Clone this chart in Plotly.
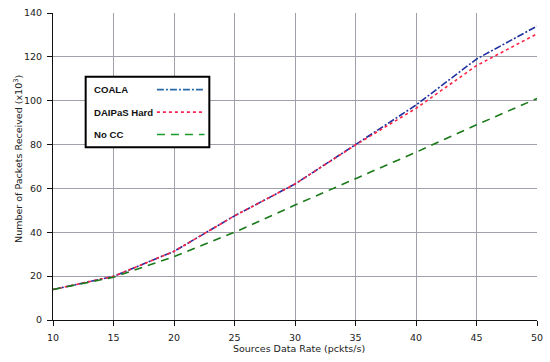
import plotly.graph_objects as go

rate = [10, 15, 20, 25, 30, 35, 40, 45, 50]
coala = [13.9, 19.9, 31.3, 47.5, 62.0, 80.0, 98.0, 119.0, 134.0]
daipas = [13.9, 19.9, 31.3, 47.5, 62.0, 79.8, 96.5, 116.0, 130.5]
nocc = [13.9, 19.5, 28.9, 40.0, 52.4, 64.3, 76.5, 89.0, 101.0]

series_names = ["COALA", "DAIPaS Hard", "No CC"]
colors = ["#2030a0", "#ff2244", "#1a7a1a"]
legend_colors = ["#2a6aa8", "#ff2255", "#1a9a2a"]
dashes = ["7px,2px,2px,2px", "3px,3px", "8px,6px"]

fig = go.Figure()
for name, ys, c, d in zip(series_names, [coala, daipas, nocc], colors, dashes):
    fig.add_trace(go.Scatter(x=rate, y=ys, mode="lines", name=name,
                             line=dict(color=c, width=1.6, dash=d)))

font = dict(family="DejaVu Sans", size=9.5, color="#222")
fig.update_layout(
    width=550, height=362,
    margin=dict(l=53, r=8, t=7, b=41.5),
    paper_bgcolor="white", plot_bgcolor="white",
    showlegend=False,
    font=font,
    xaxis=dict(range=[10, 50], dtick=5, showgrid=True, gridcolor="#a0a0aa", gridwidth=1,
               showline=True, linecolor="#111", linewidth=1, ticks="outside", ticklen=5,
               tickcolor="#111", zeroline=False, ticklabelstandoff=4, tickfont=font),
    yaxis=dict(range=[0, 140], dtick=20, showgrid=True, gridcolor="#a0a0aa", gridwidth=1,
               showline=True, linecolor="#111", linewidth=1, ticks="outside", ticklen=5,
               tickcolor="#111", zeroline=False, ticklabelstandoff=3, tickfont=font),
)

fig.add_annotation(text="Sources Data Rate (pckts/s)",
                   xref="paper", yref="paper", x=0.509, y=-0.094, xanchor="center",
                   yanchor="middle", showarrow=False, font=font)
fig.add_annotation(text="Number of Packets Received (x10<sup>3</sup>)", textangle=-90,
                   xref="paper", yref="paper", x=-0.0736, y=0.526, xanchor="center",
                   yanchor="middle", showarrow=False, font=font)

# custom legend box
fig.add_shape(type="rect", xref="paper", yref="paper", x0=0.0675, x1=0.323, y0=0.5625, y1=0.792,
              line=dict(color="black", width=2), fillcolor="white", layer="above")
ys_leg = [0.7505, 0.677, 0.604]
for name, c, d, yy in zip(series_names, legend_colors, dashes, ys_leg):
    fig.add_annotation(text="<b>" + name + "</b>", xref="paper", yref="paper", x=0.08, y=yy,
                       xanchor="left", yanchor="middle", showarrow=False,
                       font=dict(family="Liberation Sans", size=9.6, color="#111"))
    fig.add_shape(type="line", xref="paper", yref="paper", x0=0.2147, x1=0.313, y0=yy, y1=yy,
                  line=dict(color=c, width=1.6, dash=d), layer="above")

fig.write_html("out.html", config={"displayModeBar": False},
               post_script="document.body.style.margin='0';document.body.style.overflow='hidden';")
